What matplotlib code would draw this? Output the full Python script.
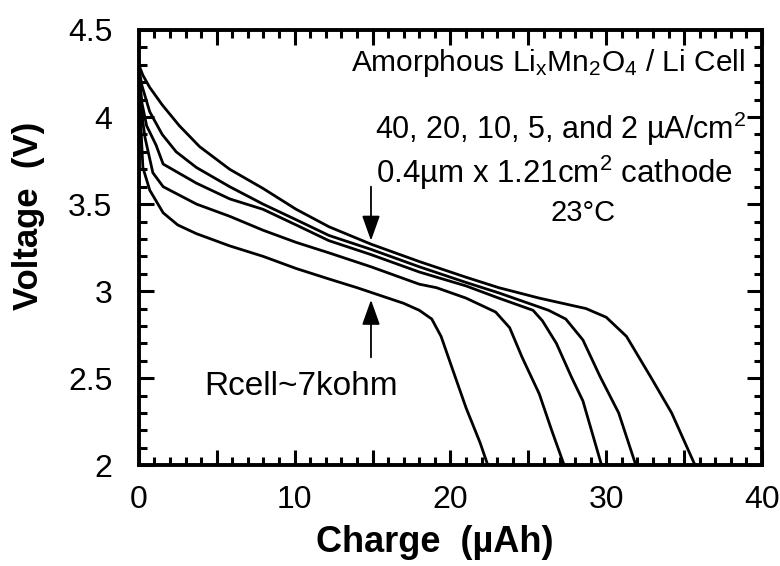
import numpy as np
import matplotlib
matplotlib.use("Agg")
import matplotlib.pyplot as plt
from matplotlib.ticker import MultipleLocator

plt.rcParams['font.family'] = ['Liberation Sans', 'DejaVu Sans']
plt.rcParams['mathtext.fontset'] = 'custom'
plt.rcParams['mathtext.rm'] = 'Liberation Sans'
plt.rcParams['mathtext.it'] = 'Liberation Sans'

# discharge curves, charge (uAh) vs voltage (V)
# 40 uA/cm2
q_40 = [0, 0.1, 0.26, 0.7, 1.56, 2.5, 3.7, 5.83, 7.97, 10.1, 12.2, 14.0, 16.0,
        17.0, 18.0, 18.8, 19.4, 20.1, 21.0, 21.9, 22.4]
v_40 = [4.25, 4.0, 3.71, 3.58, 3.45, 3.38, 3.33, 3.26, 3.20, 3.13, 3.07, 3.02, 2.96,
        2.93, 2.89, 2.84, 2.74, 2.56, 2.33, 2.13, 2.0]
# 20 uA/cm2
q_20 = [0, 0.2, 0.4, 0.9, 1.56, 3.7, 5.83, 7.97, 10.1, 12.2, 14.9, 18.0, 19.1,
        21.0, 22.9, 23.8, 24.6, 25.7, 26.5, 27.3]
v_20 = [4.26, 4.01, 3.88, 3.68, 3.60, 3.50, 3.43, 3.35, 3.28, 3.22, 3.14, 3.04, 3.02,
        2.96, 2.88, 2.79, 2.62, 2.41, 2.2, 2.0]
# 10 uA/cm2
q_10 = [0, 0.2, 0.5, 1.1, 1.56, 3.7, 5.83, 7.97, 10.1, 12.2, 14.9, 18.0, 21.0,
        23.1, 25.3, 25.9, 26.8, 27.8, 28.5, 29.7]
v_10 = [4.27, 4.08, 3.95, 3.84, 3.73, 3.62, 3.53, 3.47, 3.38, 3.29, 3.21, 3.11, 3.03,
        2.96, 2.89, 2.83, 2.70, 2.50, 2.37, 2.0]
# 5 uA/cm2
q_5 = [0, 0.2, 0.7, 1.5, 2.4, 3.7, 5.83, 7.97, 10.1, 12.2, 14.9, 18.0, 21.0,
       23.1, 26.3, 27.4, 28.5, 29.6, 30.8, 31.9]
v_5 = [4.28, 4.18, 4.03, 3.90, 3.80, 3.71, 3.60, 3.50, 3.41, 3.32, 3.24, 3.14, 3.05,
       2.99, 2.89, 2.84, 2.72, 2.51, 2.30, 2.0]
# 2 uA/cm2
q_2 = [0, 0.26, 0.7, 1.5, 2.6, 3.9, 5.83, 7.97, 10.1, 12.2, 14.9, 18.0, 21.0,
       23.1, 25.7, 28.7, 30.0, 31.3, 32.9, 34.2, 35.7]
v_2 = [4.3, 4.24, 4.17, 4.07, 3.95, 3.83, 3.70, 3.59, 3.47, 3.37, 3.27, 3.17, 3.08,
       3.02, 2.96, 2.90, 2.85, 2.74, 2.50, 2.30, 2.0]

curves = [(q_40, v_40), (q_20, v_20), (q_10, v_10), (q_5, v_5), (q_2, v_2)]

x_ticks = [0, 5, 10, 15, 20, 25, 30, 35, 40]
x_labels = ['0', '', '10', '', '20', '', '30', '', '40']
y_ticks = [2, 2.5, 3, 3.5, 4, 4.5]
y_labels = ['2', '2.5', '3', '3.5', '4', '4.5']

fig = plt.figure(figsize=(7.8, 5.66), dpi=100)
ax = fig.add_axes([0.178, 0.178, 0.799, 0.769])

for q, v in curves:
    ax.plot(q, v, color='black', lw=2.0, solid_joinstyle='round')

ax.set_xlim(0, 40)
ax.set_ylim(2, 4.5)
ax.set_xticks(x_ticks)
ax.set_xticklabels(x_labels)
ax.xaxis.set_minor_locator(MultipleLocator(1))
ax.set_yticks(y_ticks)
ax.set_yticklabels(y_labels)
ax.yaxis.set_minor_locator(MultipleLocator(0.1))
ax.tick_params(which='both', direction='in', top=True, right=True, width=2.2)
ax.tick_params(which='major', length=11, labelsize=23)
ax.tick_params(axis='x', which='major', pad=14)
ax.tick_params(axis='y', which='major', pad=19)
ax.tick_params(which='minor', length=6)
for s in ax.spines.values():
    s.set_linewidth(2.8)

ax.set_xlabel('Charge  (\u00b5Ah)', fontsize=26, fontweight='bold')
ax.set_ylabel('Voltage  (V)', fontsize=25, fontweight='bold')
ax.xaxis.set_label_coords(0.475, -0.137)
ax.yaxis.set_label_coords(-0.15, 0.572)

ax.text(38.9, 4.31, 'Amorphous Li$_\\mathregular{x}$Mn$_\\mathregular{2}$O$_\\mathregular{4}$ / Li Cell',
        ha='right', va='center', fontsize=21.5)
ax.text(39.0, 3.93, '40, 20, 10, 5, and 2 \u00b5A/cm$^\\mathregular{2}$',
        ha='right', va='center', fontsize=22)
ax.text(38.1, 3.68, '0.4\u00b5m x 1.21cm$^\\mathregular{2}$ cathode',
        ha='right', va='center', fontsize=22.5)
ax.text(28.5, 3.45, '23\u00b0C', ha='center', va='center', fontsize=21)
ax.text(10.4, 2.45, 'Rcell~7kohm', ha='center', va='center', fontsize=24)

arrow_style = dict(arrowstyle='-|>,head_length=0.7,head_width=0.25', color='black',
                   lw=1.3, mutation_scale=22, shrinkA=0, shrinkB=0)
ax.annotate('', xy=(14.9, 3.29), xytext=(14.9, 3.6), arrowprops=arrow_style)
ax.annotate('', xy=(14.9, 2.95), xytext=(14.9, 2.62), arrowprops=arrow_style)

fig.savefig('out.png', dpi=100)
